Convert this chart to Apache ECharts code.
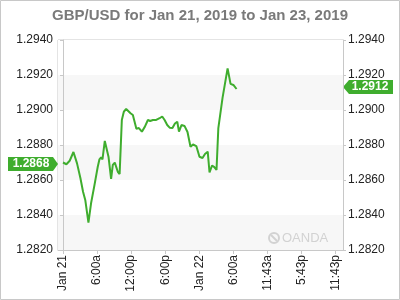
<!DOCTYPE html>
<html>
<head>
<meta charset="utf-8">
<script src="https://cdn.jsdelivr.net/npm/echarts@6/dist/echarts.min.js"></script>
<style>html,body{margin:0;padding:0;background:#fff}#c{width:400px;height:300px}</style>
</head>
<body>
<div id="c"></div>
<script>
// Hours since Jan 21 00:00
const hours = [0,0.6,1.18,1.84,2.12,2.47,3.07,3.53,3.92,4.24,4.48,4.94,5.54,6.12,6.42,6.71,6.95,7.36,7.59,8.01,8.47,8.77,9.12,9.65,9.97,10.36,10.71,11.12,11.47,11.89,12.3,12.6,12.92,13.36,13.89,14.42,14.95,15.35,15.83,16.41,17.01,17.47,17.89,18.35,18.78,19.27,19.71,20.12,20.42,20.86,21.39,21.92,22.45,22.89,23.47,24.03,24.56,25.0,25.48,25.8,26.24,26.65,27.03,27.35,28.09,28.98,29.5,30.0,30.56];
const prices = [1.2870,1.2869,1.2871,1.2876,1.28766,1.28695,1.2861,1.28533,1.28486,1.28482,1.28356,1.28467,1.28571,1.28676,1.28718,1.2873,1.28718,1.28823,1.28819,1.28733,1.28606,1.28686,1.28699,1.28647,1.28634,1.28943,1.2899,1.29006,1.2901,1.28981,1.28971,1.28967,1.28893,1.28897,1.28876,1.28905,1.28943,1.28937,1.28943,1.28943,1.28953,1.28963,1.28943,1.28914,1.28899,1.28897,1.28923,1.28933,1.28876,1.28914,1.28909,1.28874,1.2879,1.28803,1.28794,1.28733,1.28726,1.28749,1.28762,1.28643,1.28683,1.28674,1.28657,1.28897,1.29069,1.29238,1.29149,1.29143,1.2912];
const tickHours = [0,6,12,18,24,30,36,42,48];
const tickLabels = ['Jan 21','6:00a','12:00p','6:00p','Jan 22','6:00a','11:43a','5:43p','11:43p'];
const yTicks = [1.2820,1.2840,1.2860,1.2880,1.2900,1.2920,1.2940];
const openTag = 1.2868;
const lastTag = 1.2912;
const titleText = 'GBP/USD for Jan 21, 2019 to Jan 23, 2019';

const green = '#3fad2e';
const chart = echarts.init(document.getElementById('c'), null, {renderer:'canvas'});
const labelMap = {};
tickHours.forEach((h,i)=>labelMap[h]=tickLabels[i]);
const yAxisCommon = {
  type:'value', min:yTicks[0], max:yTicks[yTicks.length-1], interval:0.002,
  axisLine:{show:true,lineStyle:{color:'#c8c8c8'}},
  axisTick:{show:true,length:3,lineStyle:{color:'#c8c8c8'}},
  axisLabel:{color:'#222',fontSize:12,fontFamily:'Liberation Sans, Arial',margin:5,formatter:v=>v.toFixed(4)},
  splitLine:{show:false}
};
chart.setOption({
  animation:false,
  title:{text:titleText,left:'center',top:3,textStyle:{fontSize:15,fontWeight:'bold',color:'#7a7a7a',fontFamily:'Liberation Sans, Arial'}},
  grid:{left:58,right:57,top:40,bottom:50,show:true,borderColor:'#c8c8c8',borderWidth:1,backgroundColor:'transparent'},
  xAxis:{type:'value',min:-0.88,max:49.3,
    axisLine:{show:true,lineStyle:{color:'#c8c8c8'}},
    axisTick:{show:true,length:4,customValues:tickHours,lineStyle:{color:'#c8c8c8'}},
    axisLabel:{customValues:tickHours,rotate:90,margin:5,color:'#222',fontSize:12,fontFamily:'Liberation Sans, Arial',formatter:v=>labelMap[v]||''},
    splitLine:{show:false}},
  yAxis:[
    Object.assign({},yAxisCommon,{position:'left',splitArea:{show:true,areaStyle:{color:['#f7f7f7','#ffffff']}}}),
    Object.assign({},yAxisCommon,{position:'right',splitArea:{show:false}})
  ],
  series:[{type:'line',data:hours.map((h,i)=>[h,prices[i]]),showSymbol:false,symbol:'none',
    lineStyle:{color:green,width:2},itemStyle:{color:green}}]
});
const yOpen = chart.convertToPixel({yAxisIndex:0}, openTag) - 2;
const yLast = chart.convertToPixel({yAxisIndex:0}, lastTag) - 2;
chart.setOption({graphic:[
  {type:'rect',shape:{x:0.5,y:0.5,width:399,height:299},style:{fill:'none',stroke:'#c8c8c8',lineWidth:1},silent:true},
  {type:'polygon',shape:{points:[[8,yOpen-7],[53,yOpen-7],[58,yOpen],[53,yOpen+7],[8,yOpen+7]]},style:{fill:green}},
  {type:'text',x:31,y:yOpen,style:{text:openTag.toFixed(4),fill:'#fff',font:'bold 12px Liberation Sans, Arial',align:'center',verticalAlign:'middle'}},
  {type:'polygon',shape:{points:[[343,yLast],[349,yLast-7],[393,yLast-7],[393,yLast+7],[349,yLast+7]]},style:{fill:green}},
  {type:'text',x:370,y:yLast,style:{text:lastTag.toFixed(4),fill:'#fff',font:'bold 12px Liberation Sans, Arial',align:'center',verticalAlign:'middle'}},
  {type:'circle',shape:{cx:274,cy:238,r:5},style:{fill:'none',stroke:'#d2d2d2',lineWidth:2}},
  {type:'line',shape:{x1:271,y1:235,x2:277,y2:241},style:{stroke:'#d2d2d2',lineWidth:2}},
  {type:'text',x:282,y:238,style:{text:'OANDA',fill:'#d2d2d2',font:'13px Liberation Sans, Arial',verticalAlign:'middle'}}
]});
</script>
</body>
</html>
